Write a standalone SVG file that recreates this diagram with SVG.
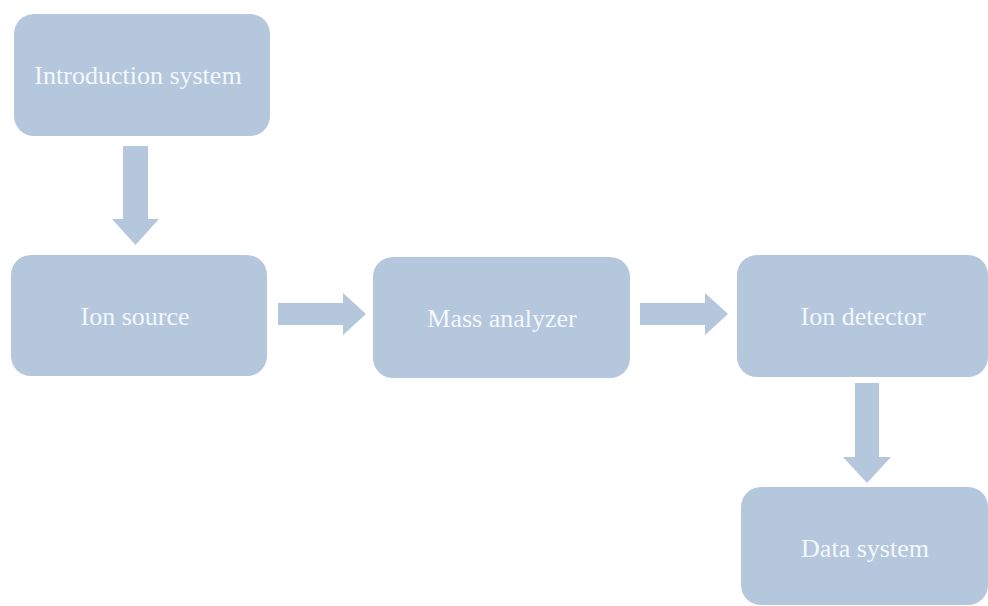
<svg xmlns="http://www.w3.org/2000/svg" width="988" height="606" viewBox="0 0 988 606">
<style>
.box{fill:#b4c7dd}
.arr{fill:#b4c7dd}
.lbl{font-family:"Liberation Serif","DejaVu Serif",serif;font-size:26px;fill:#f4f7fb;text-anchor:middle;dominant-baseline:central}
</style>
<rect width="988" height="606" fill="#ffffff"/>
<g id="connectors">
<polygon class="arr" points="123,146 148,146 148,219 159,219 135.5,245 112,219 123,219"/>
<polygon class="arr" points="278,303 343,303 343,293 366,314 343,335 343,325 278,325"/>
<polygon class="arr" points="640,303 705,303 705,293 728,314 705,335 705,325 640,325"/>
<polygon class="arr" points="855,383 879,383 879,457 891,457 867,483 843,457 855,457"/>
</g>
<g id="introduction">
<rect class="box" x="14" y="14" width="256" height="122" rx="20"/>
<text class="lbl" x="138" y="75">Introduction system</text>
</g>
<g id="ion-source">
<rect class="box" x="11" y="255" width="256" height="121" rx="20"/>
<text class="lbl" x="135" y="316">Ion source</text>
</g>
<g id="mass-analyzer">
<rect class="box" x="373" y="257" width="257" height="121" rx="20"/>
<text class="lbl" x="502" y="318">Mass analyzer</text>
</g>
<g id="ion-detector">
<rect class="box" x="737" y="255" width="251" height="122" rx="20"/>
<text class="lbl" x="863" y="316">Ion detector</text>
</g>
<g id="data-system">
<rect class="box" x="741" y="487" width="247" height="118" rx="20"/>
<text class="lbl" x="865" y="548">Data system</text>
</g>
</svg>
